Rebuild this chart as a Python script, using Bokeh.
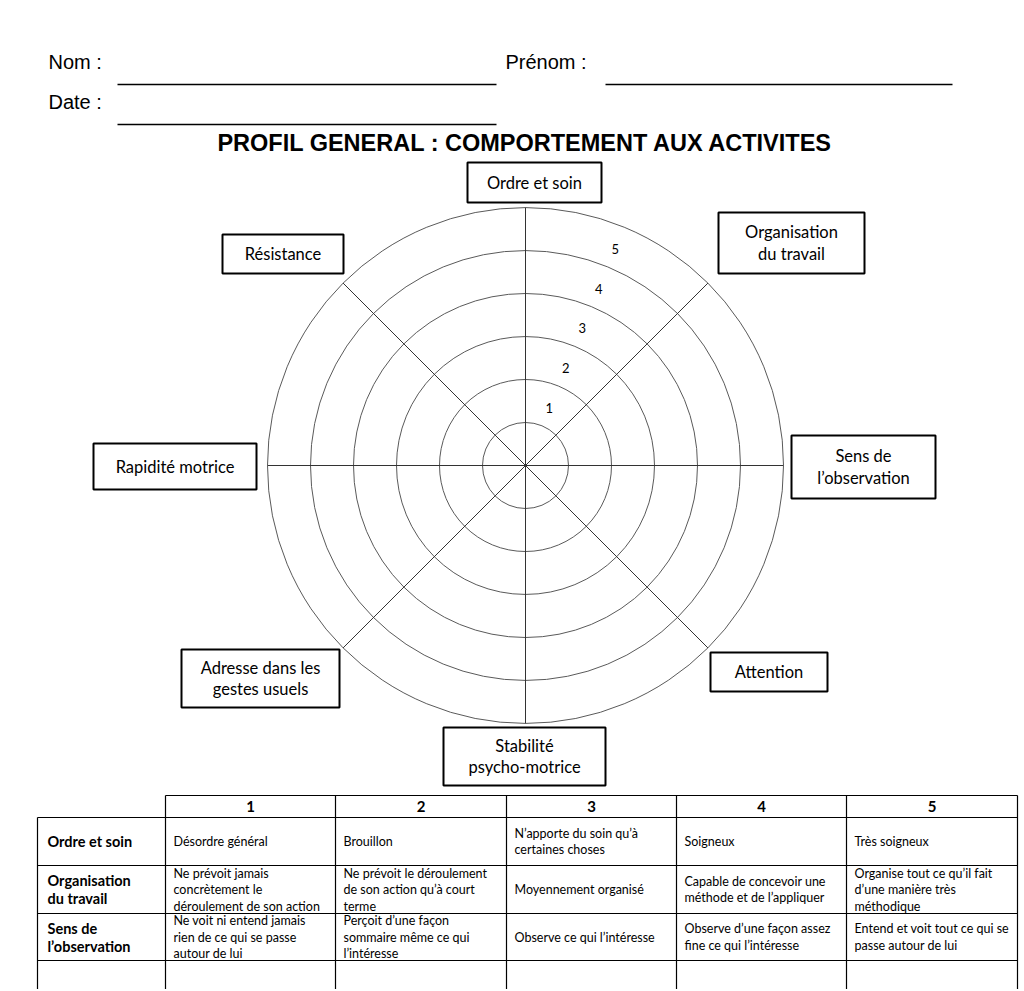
import numpy as np
from bokeh.plotting import figure
from bokeh.models import Range1d
from bokeh.core.properties import value
from bokeh.embed import file_html
from bokeh.resources import INLINE

# ---------------- data ----------------
header_fields = ["Nom :", "Prénom :", "Date :"]
title_text = "PROFIL GENERAL : COMPORTEMENT AUX ACTIVITES"
axes_labels = [
    "Ordre et soin",
    "Organisation\ndu travail",
    "Sens de\nl’observation",
    "Attention",
    "Stabilité\npsycho-motrice",
    "Adresse dans les\ngestes usuels",
    "Rapidité motrice",
    "Résistance",
]
levels = [1, 2, 3, 4, 5]
table_cols = ["1", "2", "3", "4", "5"]
table_rows = ["Ordre et soin", "Organisation\ndu travail", "Sens de\nl’observation"]
table_cells = [
    ["Désordre général", "Brouillon", "N’apporte du soin qu’à\ncertaines choses",
     "Soigneux", "Très soigneux"],
    ["Ne prévoit jamais\nconcrètement  le\ndéroulement de son action",
     "Ne prévoit le déroulement\nde son action qu’à court\nterme",
     "Moyennement organisé",
     "Capable de concevoir une\nméthode et de l’appliquer",
     "Organise tout ce qu’il fait\nd’une manière très\nméthodique"],
    ["Ne voit ni entend jamais\nrien de ce qui se passe\nautour de lui",
     "Perçoit d’une façon\nsommaire même ce qui\nl’intéresse",
     "Observe ce qui l’intéresse",
     "Observe d’une façon assez\nfine ce qui l’intéresse",
     "Entend et voit tout ce qui se\npasse autour de lui"],
]

# ---------------- layout ----------------
W, H = 1022, 989
p = figure(width=W, height=H, x_range=Range1d(0, W), y_range=Range1d(H, 0),
           output_backend="svg", toolbar_location=None, min_border=0)
p.axis.visible = False
p.grid.visible = False
p.outline_line_color = None
p.background_fill_color = "white"
p.border_fill_color = "white"

SANS = value("Liberation Sans")
LATO = value("Lato")


def multiline(x, cy, text, spacing, size, font=LATO, style="normal", align="center"):
    lines = text.split("\n")
    n = len(lines)
    ys = [cy + (i - (n - 1) / 2) * spacing for i in range(n)]
    p.text(x=[x] * n, y=ys, text=lines, text_font=font, text_font_size=size,
           text_font_style=style, text_align=align, text_baseline="middle",
           text_color="black")


# header
hx = [48, 505, 48]
hy = [61, 61, 101]
p.text(x=hx, y=hy, text=header_fields, text_font=SANS, text_font_size="20px",
       text_align="left", text_baseline="middle", text_color="black")
p.segment(x0=[117, 605, 117], y0=[84, 84, 124], x1=[496, 952, 496], y1=[84, 84, 124],
          line_color="black", line_width=1.5)

# title
p.text(x=[525], y=[142], text=[title_text], text_font=SANS, text_font_size="23.5px",
       text_font_style="bold", text_align="center", text_baseline="middle",
       text_color="black")

# radar grid
cx, cy, step = 525, 465, 43
nrings = len(levels) + 1
radii = [step * k for k in range(1, nrings + 1)]
p.circle(x=[cx] * nrings, y=[cy] * nrings, radius=radii, fill_color=None,
         line_color="#5a5a5a", line_width=1)
R = radii[-1]
n_ax = len(axes_labels)
theta = np.deg2rad(np.arange(n_ax) * 360.0 / n_ax)
p.segment(x0=[cx] * n_ax, y0=[cy] * n_ax, x1=cx + R * np.sin(theta), y1=cy - R * np.cos(theta),
          line_color="#333333", line_width=1)

# level numbers
lv = np.array(levels, dtype=float)
a = np.deg2rad(180.0 / n_ax)
rl = (lv + 0.45) * step
p.text(x=cx + rl * np.sin(a), y=cy - rl * np.cos(a), text=[str(v) for v in levels],
       text_font=LATO, text_font_size="13px", text_align="center", text_baseline="middle",
       text_color="black")

# axis label boxes (left, top, right, bottom)
boxes = [
    (467, 162, 601, 202),
    (718, 212, 864, 273),
    (791, 435, 935, 498),
    (710, 652, 827, 691),
    (443, 727, 605, 785),
    (181, 649, 339, 707),
    (93, 443, 256, 489),
    (222, 234, 343, 273),
]
p.quad(left=[b[0] for b in boxes], right=[b[2] for b in boxes],
       top=[b[1] for b in boxes], bottom=[b[3] for b in boxes],
       fill_color="white", line_color="black", line_width=2)
for lab, b in zip(axes_labels, boxes):
    multiline((b[0] + b[2]) / 2, (b[1] + b[3]) / 2, lab, 21.5, "16.5px")

# table
col_x = [165, 335, 506, 676, 846, 1017]
label_x = 37
head_top = 795
row_y = [817, 865, 913, 960]
bottom = H
p.segment(x0=[col_x[0]] + [label_x] * len(row_y), y0=[head_top] + row_y,
          x1=[col_x[-1]] * (1 + len(row_y)), y1=[head_top] + row_y,
          line_color="black", line_width=1.2)
p.segment(x0=[label_x] + col_x, y0=[row_y[0]] + [head_top] * len(col_x),
          x1=[label_x] + col_x, y1=[bottom] * (1 + len(col_x)),
          line_color="black", line_width=1.2)

col_cx = [(col_x[i] + col_x[i + 1]) / 2 for i in range(len(table_cols))]
p.text(x=col_cx, y=[(head_top + row_y[0]) / 2] * len(table_cols), text=table_cols,
       text_font=LATO, text_font_size="15px", text_font_style="bold",
       text_align="center", text_baseline="middle", text_color="black")

for r, rlab in enumerate(table_rows):
    rc = (row_y[r] + row_y[r + 1]) / 2
    multiline(label_x + 10, rc, rlab, 18, "14.5px", style="bold", align="left")
    for c, cell in enumerate(table_cells[r]):
        multiline(col_x[c] + 8, rc, cell, 16.5, "12.5px", align="left")

open("out.html", "w").write(file_html(p, INLINE))
